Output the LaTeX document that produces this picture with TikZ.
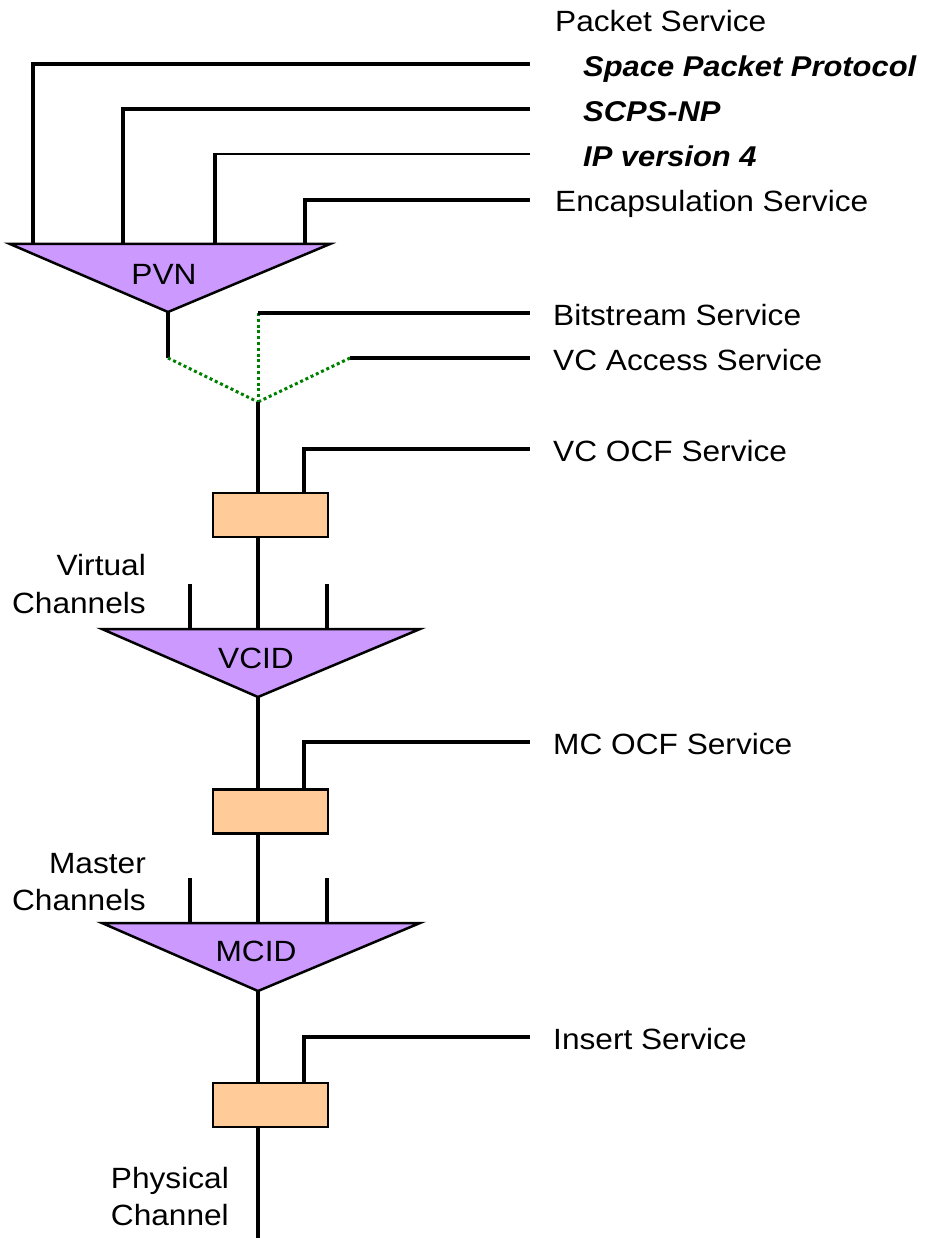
\documentclass[tikz,border=0pt]{standalone}
\usepackage{fontspec}
\setmainfont{Liberation Sans}[FakeStretch=1.08]
\definecolor{trifill}{HTML}{CC99FF}
\definecolor{boxfill}{HTML}{FFCC99}
\definecolor{dotgreen}{HTML}{008000}
\begin{document}
\begin{tikzpicture}[x=1pt,y=-1pt,
  wire/.style={line width=3.8pt},
  thinwire/.style={line width=2pt},
  dotwire/.style={draw=dotgreen,line width=3pt,dash pattern=on 3pt off 2.8pt},
  trishape/.style={fill=trifill,draw=black,line width=2.5pt,line join=miter},
  procbox/.style={rectangle,fill=boxfill,draw=black,line width=2.6pt,minimum width=115pt,minimum height=44pt,inner sep=0pt},
  lbl/.style={inner sep=0pt,font=\fontsize{29.3}{36}\selectfont},
  lblbi/.style={inner sep=0pt,font=\fontsize{28.6}{36}\selectfont\bfseries\itshape}]
\useasboundingbox (0,0) rectangle (927,1238);

% ---------- coordinates ----------
\coordinate (pvnL) at (10,244);
\coordinate (pvnR) at (330,244);
\coordinate (pvnA) at (168,312);
\coordinate (pin1) at (33,244);
\coordinate (pin2) at (123,244);
\coordinate (pin3) at (215,244);
\coordinate (pin4) at (305,244);
\coordinate (sppE) at (530,64);
\coordinate (scpsE) at (530,109);
\coordinate (ipE) at (530,154);
\coordinate (encE) at (530,200);
\coordinate (pvnOut) at (168,358);
\coordinate (mrg) at (258,402);
\coordinate (bsT) at (258,313);
\coordinate (bsE) at (530,313);
\coordinate (vcaS) at (350,358);
\coordinate (vcaE) at (530,358);
\coordinate (vocfE) at (530,449);
\coordinate (vocfX) at (304,449);
\coordinate (vcidL) at (102,629);
\coordinate (vcidR) at (420,629);
\coordinate (vcidA) at (258,697);
\coordinate (vt1) at (190,584);
\coordinate (vt2) at (327,584);
\coordinate (mocfE) at (530,742);
\coordinate (mocfX) at (304,742);
\coordinate (mcidL) at (102,923);
\coordinate (mcidR) at (420,923);
\coordinate (mcidA) at (258,991);
\coordinate (mt1) at (190,878);
\coordinate (mt2) at (327,878);
\coordinate (insE) at (530,1037);
\coordinate (insX) at (304,1037);
\coordinate (phyEnd) at (258,1238);

% ---------- boxes (placed first so connectors can refer to them) ----------
\node[procbox] (box1) at (270.5,515) {};
\node[procbox] (box2) at (270.5,811.5) {};
\node[procbox] (box3) at (270.5,1105) {};

% ---------- connectors ----------
\draw[wire] (pin1) |- (sppE);
\draw[wire] (pin2) |- (scpsE);
\draw[wire] (pin3) -- ([yshift=-1pt]pin3 |- ipE);
\draw[thinwire] ([xshift=-1.9pt]pin3 |- ipE) -- (ipE);
\draw[wire] (pin4) |- (encE);
\draw[wire] (pvnA) -- (pvnOut);
\draw[dotwire] (pvnOut) -- (mrg);
\draw[dotwire] (bsT) -- (mrg);
\draw[dotwire] (vcaS) -- (mrg);
\draw[wire] (bsT) -- (bsE);
\draw[wire] (vcaS) -- (vcaE);
\draw[wire] (mrg) -- (mrg |- box1.north);
\draw[wire] (vocfX |- box1.north) |- (vocfE);
\draw[wire] (box1.south -| vcidA) -- (vcidA |- vcidL);
\draw[wire] (vt1) -- (vt1 |- vcidL);
\draw[wire] (vt2) -- (vt2 |- vcidL);
\draw[wire] (vcidA) -- (vcidA |- box2.north);
\draw[wire] (mocfX |- box2.north) |- (mocfE);
\draw[wire] (box2.south -| mcidA) -- (mcidA |- mcidL);
\draw[wire] (mt1) -- (mt1 |- mcidL);
\draw[wire] (mt2) -- (mt2 |- mcidL);
\draw[wire] (mcidA) -- (mcidA |- box3.north);
\draw[wire] (insX |- box3.north) |- (insE);
\draw[wire] (box3.south -| phyEnd) -- (phyEnd);

% redraw boxes on top of the connectors
\node[procbox] at (box1) {};
\node[procbox] at (box2) {};
\node[procbox] at (box3) {};

% ---------- triangles ----------
\filldraw[trishape] (pvnL) -- (pvnR) -- (pvnA) -- cycle;
\filldraw[trishape] (vcidL) -- (vcidR) -- (vcidA) -- cycle;
\filldraw[trishape] (mcidL) -- (mcidR) -- (mcidA) -- cycle;
\node[lbl,anchor=base] (pvn) at (164,285) {PVN};
\node[lbl,anchor=base] (vcid) at (256,668) {VCID};
\node[lbl,anchor=base] (mcid) at (256,961) {MCID};

% ---------- labels ----------
\node[lbl,anchor=base west] (lps) at (555,32) {Packet Service};
\node[lblbi,anchor=base west] (lspp) at (583,77) {Space Packet Protocol};
\node[lblbi,anchor=base west] (lscps) at (583,122) {SCPS-NP};
\node[lblbi,anchor=base west] (lip) at (583,167) {IP version 4};
\node[lbl,anchor=base west] (lenc) at (555,212) {Encapsulation Service};
\node[lbl,anchor=base west] (lbs) at (553,325) {Bitstream Service};
\node[lbl,anchor=base west] (lvca) at (553,370) {VC Access Service};
\node[lbl,anchor=base west] (lvocf) at (553,461) {VC OCF Service};
\node[lbl,anchor=base west] (lmocf) at (553,754) {MC OCF Service};
\node[lbl,anchor=base west] (lins) at (553,1049) {Insert Service};
\node[lbl,anchor=base east] (lvc1) at (146,575) {Virtual};
\node[lbl,anchor=base east] (lvc2) at (146,613) {Channels};
\node[lbl,anchor=base east] (lmc1) at (146,873) {Master};
\node[lbl,anchor=base east] (lmc2) at (146,910) {Channels};
\node[lbl,anchor=base east] (lpc1) at (229,1188) {Physical};
\node[lbl,anchor=base east] (lpc2) at (229,1225) {Channel};
\end{tikzpicture}
\end{document}
